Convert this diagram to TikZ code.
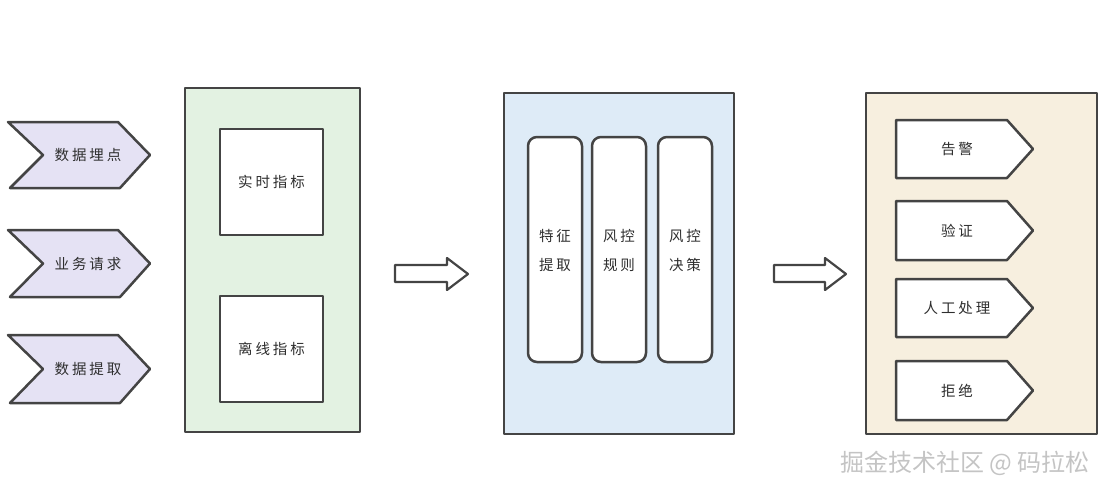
\documentclass[tikz,border=0pt]{standalone}
\usepackage{fontspec}
\newfontfamily\cjk[LetterSpace=20]{Noto Sans CJK SC}
\newfontfamily\cjkw{Noto Sans CJK SC}
\usetikzlibrary{calc}
\definecolor{ink}{HTML}{444444}
\definecolor{lav}{HTML}{E5E2F4}
\definecolor{mint}{HTML}{E3F2E2}
\definecolor{sky}{HTML}{DEEBF7}
\definecolor{sand}{HTML}{F7EFDF}
\definecolor{txt}{HTML}{2E2E2E}
\definecolor{wm}{HTML}{C4C4C4}
\tikzset{
  sk/.style={draw=ink, line width=2.5pt, line join=round},
  lbl/.style={font=\fontsize{14.5}{29}\selectfont\cjk, text=txt, align=center, inner sep=0pt},
  blockarrow/.style={sk, fill=white, line width=2.2pt},
}
\begin{document}
\begin{tikzpicture}[x=1pt,y=-1pt]
\useasboundingbox (0,0) rectangle (1110,495);
% ---- input chevrons
\foreach \yt/\yb/\lab/\nm in {122/188/数据埋点/inA, 230/297/业务请求/inB, 335/403/数据提取/inC}{
  \pgfmathsetmacro{\ym}{(\yt+\yb)/2}
  \draw[sk, fill=lav] (8,\yt) -- (118,\yt) -- (150,\ym) -- (120,\yb) -- (10,\yb) -- (43,\ym) -- cycle;
  \node[lbl] (\nm) at (88,\ym) {\lab};
}
% ---- green group
\node[sk, fill=mint, minimum width=175pt, minimum height=344pt, inner sep=0pt] (metrics) at (272.5,260) {};
\node[sk, fill=white, minimum width=103pt, minimum height=106pt, inner sep=0pt] (rt) at (271.5,182) {};
\node[lbl] at (rt) {实时指标};
\node[sk, fill=white, minimum width=103pt, minimum height=106pt, inner sep=0pt] (off) at (271.5,349) {};
\node[lbl] at (off) {离线指标};
% ---- arrow 1
\draw[blockarrow] (395,265) -- (447,265) -- (447,258) -- (468,274) -- (447,290) -- (447,282) -- (395,282) -- cycle;
% ---- blue group
\node[sk, fill=sky, minimum width=230pt, minimum height=341pt, inner sep=0pt] (risk) at (619,263.5) {};
\foreach \x/\lab/\nm in {555/特征\\提取/feat, 619/风控\\规则/rule, 685/风控\\决策/dec}{
  \node[sk, fill=white, rounded corners=9pt, minimum width=54pt, minimum height=225pt, inner sep=0pt] (\nm) at (\x,249.5) {};
  \node[lbl] at (\x,250) {\lab};
}
% ---- arrow 2
\draw[blockarrow] (774,265) -- (825,265) -- (825,258) -- (846,274) -- (825,290) -- (825,282) -- (774,282) -- cycle;
% ---- beige group
\node[sk, fill=sand, minimum width=231pt, minimum height=341pt, inner sep=0pt] (act) at (981.5,263.5) {};
\foreach \yt/\yb/\lab/\nm in {120/178/告警/alarm, 201/260/验证/verify, 279/337/人工处理/manual, 361/420/拒绝/reject}{
  \pgfmathsetmacro{\ym}{(\yt+\yb)/2}
  \draw[sk, fill=white] (896,\yt) -- (1007,\yt) -- (1033,\ym) -- (1007,\yb) -- (896,\yb) -- cycle;
  \node[lbl] (\nm) at (957,\ym) {\lab};
}
% ---- watermark
\node[font=\fontsize{24}{26}\selectfont\cjkw, text=wm, inner sep=0pt] (wmk) at (965,463) {掘金技术社区 @ 码拉松};
\end{tikzpicture}
\end{document}
